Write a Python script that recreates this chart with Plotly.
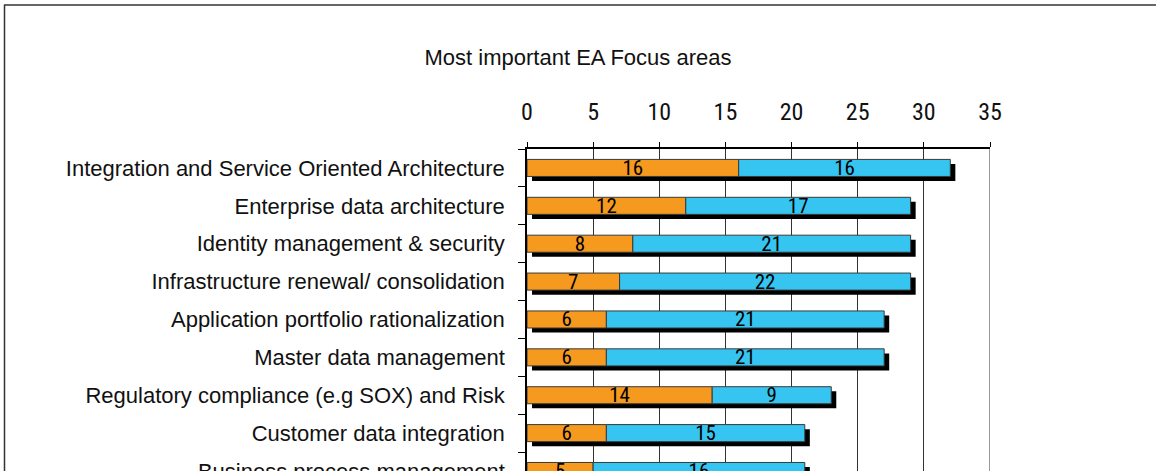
import plotly.graph_objects as go

# ---- data ----
categories = [
    "Integration and Service Oriented Architecture",
    "Enterprise data architecture",
    "Identity management & security",
    "Infrastructure renewal/ consolidation",
    "Application portfolio rationalization",
    "Master data management",
    "Regulatory compliance (e.g SOX) and Risk",
    "Customer data integration",
    "Business process management",
]
orange_vals = [16, 12, 8, 7, 6, 6, 14, 6, 5]
blue_vals = [16, 17, 21, 22, 21, 21, 9, 15, 16]
x_ticks = [0, 5, 10, 15, 20, 25, 30, 35]
title_text = "Most important EA Focus areas"

# ---- layout constants ----
W, H = 1156, 471
L, R, T, B = 527, 166, 149, 0
PW, PH = W - L - R, H - T - B
NARROW = "Liberation Sans Narrow, Arial Narrow, Roboto Condensed, Liberation Sans, Arial, sans-serif"
WIDE = "Liberation Sans, Arial, sans-serif"
ORANGE = "#F5991F"
BLUE = "#36C5F0"
BAR_W = 0.45


def px_x(px):
    return (px - L) / PW


def px_y(py):
    return (H - B - py) / PH


totals = [o + b for o, b in zip(orange_vals, blue_vals)]

fig = go.Figure()
# drop shadow
fig.add_trace(go.Bar(
    y=categories, x=totals, base=0.38, orientation="h",
    width=BAR_W, offset=-BAR_W / 2 + 0.12,
    marker=dict(color="black", line=dict(width=0)),
    hoverinfo="skip", showlegend=False,
))
fig.add_trace(go.Bar(
    y=categories, x=orange_vals, base=0, orientation="h",
    width=BAR_W, offset=-BAR_W / 2,
    marker=dict(color=ORANGE, line=dict(color="#3a3a3a", width=1)),
    text=orange_vals, textposition="inside", insidetextanchor="middle",
    constraintext="none", textangle=0,
    textfont=dict(family=NARROW, size=21, color="black"),
    showlegend=False,
))
fig.add_trace(go.Bar(
    y=categories, x=blue_vals, base=orange_vals, orientation="h",
    width=BAR_W, offset=-BAR_W / 2,
    marker=dict(color=BLUE, line=dict(color="#3a3a3a", width=1)),
    text=blue_vals, textposition="inside", insidetextanchor="middle",
    constraintext="none", textangle=0,
    textfont=dict(family=NARROW, size=21, color="black"),
    showlegend=False,
))

fig.update_layout(
    width=W, height=H,
    margin=dict(l=L, r=R, t=T, b=B, pad=0, autoexpand=False),
    barmode="overlay",
    paper_bgcolor="white", plot_bgcolor="white",
    font=dict(family=WIDE, size=22, color="#111"),
    title=dict(text=title_text, x=0.5, xref="container", xanchor="center",
               y=1 - 57 / H, yref="container", yanchor="middle",
               font=dict(family=WIDE, size=22, color="#111"), automargin=False),
    xaxis=dict(
        side="top", range=[0, 35], tickvals=x_ticks, automargin=False,
        showgrid=True, gridcolor="#333", gridwidth=1,
        zeroline=False, showline=True, linecolor="black", linewidth=1.5,
        ticks="outside", ticklen=5, tickcolor="black",
        ticklabelstandoff=13,
        tickfont=dict(family=NARROW, size=24, color="#111"),
    ),
    yaxis=dict(
        type="category", categoryorder="array", categoryarray=categories,
        range=[len(categories) - 1, -0.5], automargin=False,
        tickson="boundaries", ticks="outside", ticklen=7, tickcolor="black",
        showline=True, linecolor="black", linewidth=1.5, showgrid=False,
        ticklabelstandoff=16,
        tickfont=dict(family=WIDE, size=22, color="#111"),
    ),
    shapes=[
        dict(type="line", xref="x", yref="paper",
             x0=x_ticks[-1], x1=x_ticks[-1], y0=0, y1=1,
             line=dict(color="#9a9a9a", width=2), layer="above"),
        dict(type="line", xref="paper", yref="paper",
             x0=px_x(4), x1=px_x(W + 10), y0=px_y(5), y1=px_y(5),
             line=dict(color="#333", width=1.5), layer="above"),
        dict(type="line", xref="paper", yref="paper",
             x0=px_x(4.5), x1=px_x(4.5), y0=px_y(5), y1=px_y(H + 10),
             line=dict(color="#333", width=1.5), layer="above"),
    ],
)

fig.write_html(
    "out.html",
    config={"displayModeBar": False},
    post_script="document.body.style.margin='0';document.body.style.overflow='hidden';",
)
